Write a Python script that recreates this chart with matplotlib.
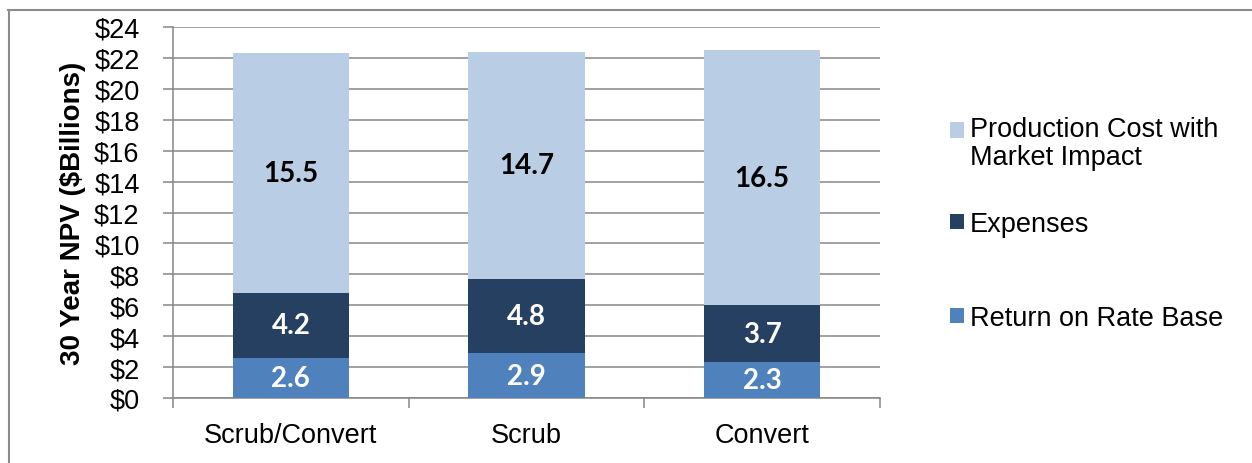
import matplotlib
matplotlib.use("Agg")
import matplotlib.pyplot as plt
from matplotlib.patches import Patch, Rectangle
from matplotlib.lines import Line2D
from matplotlib.legend_handler import HandlerPatch
import numpy as np

categories = ["Scrub/Convert", "Scrub", "Convert"]
return_on_rate_base = [2.6, 2.9, 2.3]
expenses = [4.2, 4.8, 3.7]
production_cost = [15.5, 14.7, 16.5]
series_names = ["Return on Rate Base", "Expenses", "Production Cost with\nMarket Impact"]
yticks = list(range(0, 25, 2))

colors = ["#4F81BD", "#254061", "#B9CDE5"]
label_colors = ["white", "white", "black"]

plt.rcParams['font.family'] = ['Liberation Sans', 'DejaVu Sans']
FS = 19.5

fig = plt.figure(figsize=(12.52, 4.64), dpi=100)
ax = fig.add_axes([173/1252, 1-399/464, (880-173)/1252, (399-28)/464])

x = np.arange(len(categories))
bottom = np.zeros(len(categories))
series = [return_on_rate_base, expenses, production_cost]
handles = []
for vals, c, lc, name in zip(series, colors, label_colors, series_names):
    vals = np.array(vals)
    ax.bar(x, vals, 0.495, bottom=bottom, color=c, zorder=3)
    for xi, b, v in zip(x, bottom, vals):
        ax.text(xi, b + v/2, f"{v:.1f}", ha="center", va="center", color=lc,
                fontsize=20, fontweight="bold", family=["Lato", "DejaVu Sans"], zorder=4)
    bottom = bottom + vals
    handles.append(Patch(facecolor=c, edgecolor="none", label=name))

ax.set_xlim(-0.5, 2.5)
ax.set_ylim(0, 24)
ax.set_yticks(yticks)
ax.set_yticklabels([f"${t}" for t in yticks], fontsize=FS)
ax.yaxis.grid(True, color="#868686", linewidth=1.1, zorder=0)
ax.set_axisbelow(True)

ax.set_xticks(x)
ax.set_xticklabels(categories, fontsize=FS)
ax.tick_params(axis="x", which="major", length=0, pad=17)
ax.set_xticks([-0.5, 0.5, 1.5, 2.5], minor=True)
ax.tick_params(axis="x", which="minor", length=7, color="#868686", width=1.1, direction="out")
ax.tick_params(axis="y", length=7, color="#868686", width=1.1, direction="out", pad=17)

for s in ["top", "right"]:
    ax.spines[s].set_visible(False)
for s in ["left", "bottom"]:
    ax.spines[s].set_color("#868686")
    ax.spines[s].set_linewidth(1.1)

ax.set_ylabel("30 Year NPV ($Billions)", fontsize=20, fontweight="bold", labelpad=6)


def raised_patch(legend, orig_handle, xdescent, ydescent, width, height, fontsize):
    return Rectangle((-xdescent, -ydescent + 0.5 * fontsize), width, height)


# legend: one entry per legend, positioned like the reference
legend_centers = {0: 319, 1: 225, 2: 144}
for i, h in enumerate(handles):
    hm = {}
    if i == 2:
        hm = {Patch: HandlerPatch(patch_func=raised_patch)}
    leg = fig.legend(handles=[h], loc="center left",
                     bbox_to_anchor=(950/1252, 1-legend_centers[i]/464),
                     frameon=False, fontsize=FS, handlelength=0.52, handleheight=0.52,
                     handletextpad=0.22, borderaxespad=0, borderpad=0, handler_map=hm)
    for t in leg.get_texts():
        t.set_linespacing(1.1)

# outer frame lines (top & left)
fig.add_artist(Line2D([8/1252, 1], [1-10.5/464, 1-10.5/464], color="#8c8c8c", linewidth=1.5, transform=fig.transFigure))
fig.add_artist(Line2D([8.5/1252, 8.5/1252], [0, 1-10.5/464], color="#8c8c8c", linewidth=1.5, transform=fig.transFigure))

fig.savefig("out.png", dpi=100)
